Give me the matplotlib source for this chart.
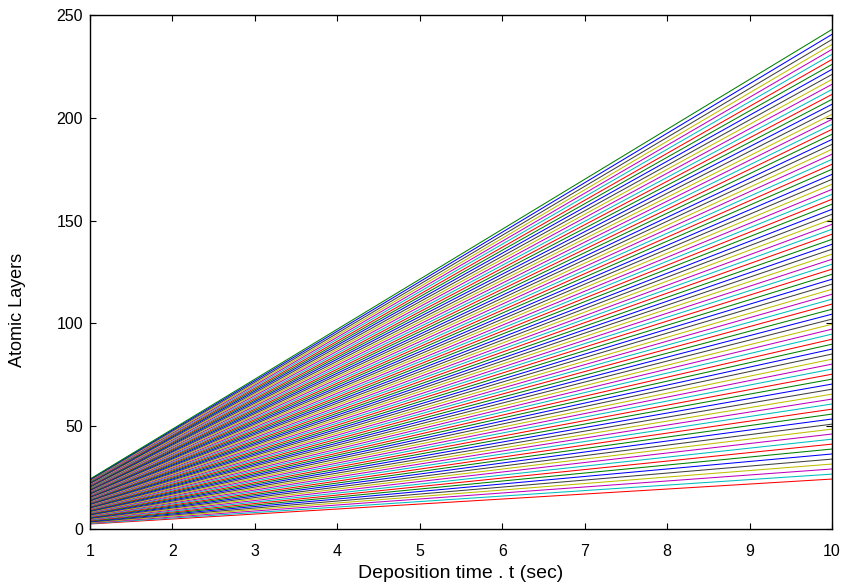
import matplotlib
matplotlib.use('Agg')
import matplotlib.pyplot as plt
import numpy as np

# deposition rates (atomic layers per second), one line each
rates = [2.43, 2.67, 2.92, 3.16, 3.40, 3.65, 3.89, 4.13, 4.37, 4.62,
         4.86, 5.10, 5.35, 5.59, 5.83, 6.08, 6.32, 6.56, 6.80, 7.05,
         7.29, 7.53, 7.78, 8.02, 8.26, 8.51, 8.75, 8.99, 9.23, 9.48,
         9.72, 9.96, 10.21, 10.45, 10.69, 10.94, 11.18, 11.42, 11.66, 11.91,
         12.15, 12.39, 12.64, 12.88, 13.12, 13.37, 13.61, 13.85, 14.09, 14.34,
         14.58, 14.82, 15.07, 15.31, 15.55, 15.80, 16.04, 16.28, 16.52, 16.77,
         17.01, 17.25, 17.50, 17.74, 17.98, 18.23, 18.47, 18.71, 18.95, 19.20,
         19.44, 19.68, 19.93, 20.17, 20.41, 20.66, 20.90, 21.14, 21.38, 21.63,
         21.87, 22.11, 22.36, 22.60, 22.84, 23.09, 23.33, 23.57, 23.81, 24.06,
         24.30]
t = np.array([1, 10])

xticks = [1, 2, 3, 4, 5, 6, 7, 8, 9, 10]
yticks = [0, 50, 100, 150, 200, 250]

# matlab style colour order, starting at red
colors = [(1, 0, 0), (0, 0.75, 0.75), (0.75, 0, 0.75), (0.75, 0.75, 0),
          (0.25, 0.25, 0.25), (0, 0, 1), (0, 0.5, 0)]

plt.rcParams['font.family'] = ['Liberation Sans', 'DejaVu Sans']

fig = plt.figure(figsize=(8.46, 5.87), dpi=100)
ax = fig.add_axes([0.1064, 0.0988, 0.8771, 0.8756])

for i, r in enumerate(rates):
    ax.plot(t, r * t, '-', color=colors[i % len(colors)], lw=0.75)

ax.set_xlim(1, 10)
ax.set_ylim(0, 250)
ax.set_xticks(xticks)
ax.set_yticks(yticks)
ax.tick_params(direction='in', top=True, right=True, length=4, width=0.8,
               labelsize=11.5, colors='black')
ax.tick_params(axis='x', pad=11)
ax.tick_params(axis='y', pad=5)
for s in ax.spines.values():
    s.set_linewidth(1.0)
    s.set_color('black')
ax.set_xlabel('Deposition time . t (sec)', fontsize=14, labelpad=4)
ax.set_ylabel('Atomic Layers', fontsize=13)
ax.yaxis.set_label_coords(-0.086, 0.426)

fig.savefig('out.png', dpi=100)
